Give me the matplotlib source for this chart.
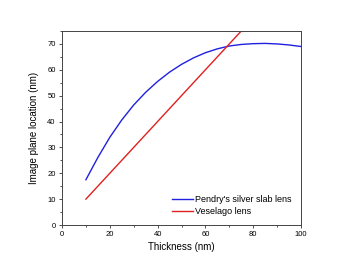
import matplotlib
matplotlib.use("Agg")
import matplotlib.pyplot as plt
from matplotlib.ticker import MultipleLocator

# data
thickness = [10, 15, 20, 25, 30, 35, 40, 45, 50, 55, 60, 65, 70, 75, 80, 85, 90, 95, 100]
pendry = [17.5, 26.1, 33.9, 40.6, 46.4, 51.3, 55.5, 59.1, 62.1, 64.6, 66.6, 68.1, 69.2, 69.8, 70.1, 70.2, 70.0, 69.6, 69.0]
veselago_x = [10, 100]
veselago_y = [10, 100]

plt.rcParams['font.family'] = ['Liberation Sans', 'DejaVu Sans']

fig = plt.figure(figsize=(3.5, 2.7), dpi=100)
ax = fig.add_axes([62/350, 45/270, 239/350, 194/270])

ax.plot(thickness, pendry, color='#2020e0', lw=1.0, label="Pendry's silver slab lens")
ax.plot(veselago_x, veselago_y, color='#e02020', lw=1.0, label='Veselago lens')

ax.set_xlim(0, 100)
ax.set_ylim(0, 75)
ax.xaxis.set_major_locator(MultipleLocator(20))
ax.xaxis.set_minor_locator(MultipleLocator(10))
ax.yaxis.set_major_locator(MultipleLocator(10))
ax.yaxis.set_minor_locator(MultipleLocator(5))
ax.tick_params(which='both', direction='out', labelsize=5.5, color='#333333', width=0.6)
ax.tick_params(which='major', length=2.5, pad=2)
ax.tick_params(which='minor', length=1.5)
for s in ax.spines.values():
    s.set_linewidth(0.7)
    s.set_color('#444444')

ax.set_xlabel('Thickness (nm)', fontsize=7, labelpad=3)
ax.set_ylabel('Image plane location (nm)', fontsize=7, labelpad=6)

ax.legend(loc='lower right', frameon=False, fontsize=6.5, handlelength=2.3,
          handletextpad=0.3, borderaxespad=0.6, labelspacing=0.3)

fig.savefig('out.png', dpi=100)
